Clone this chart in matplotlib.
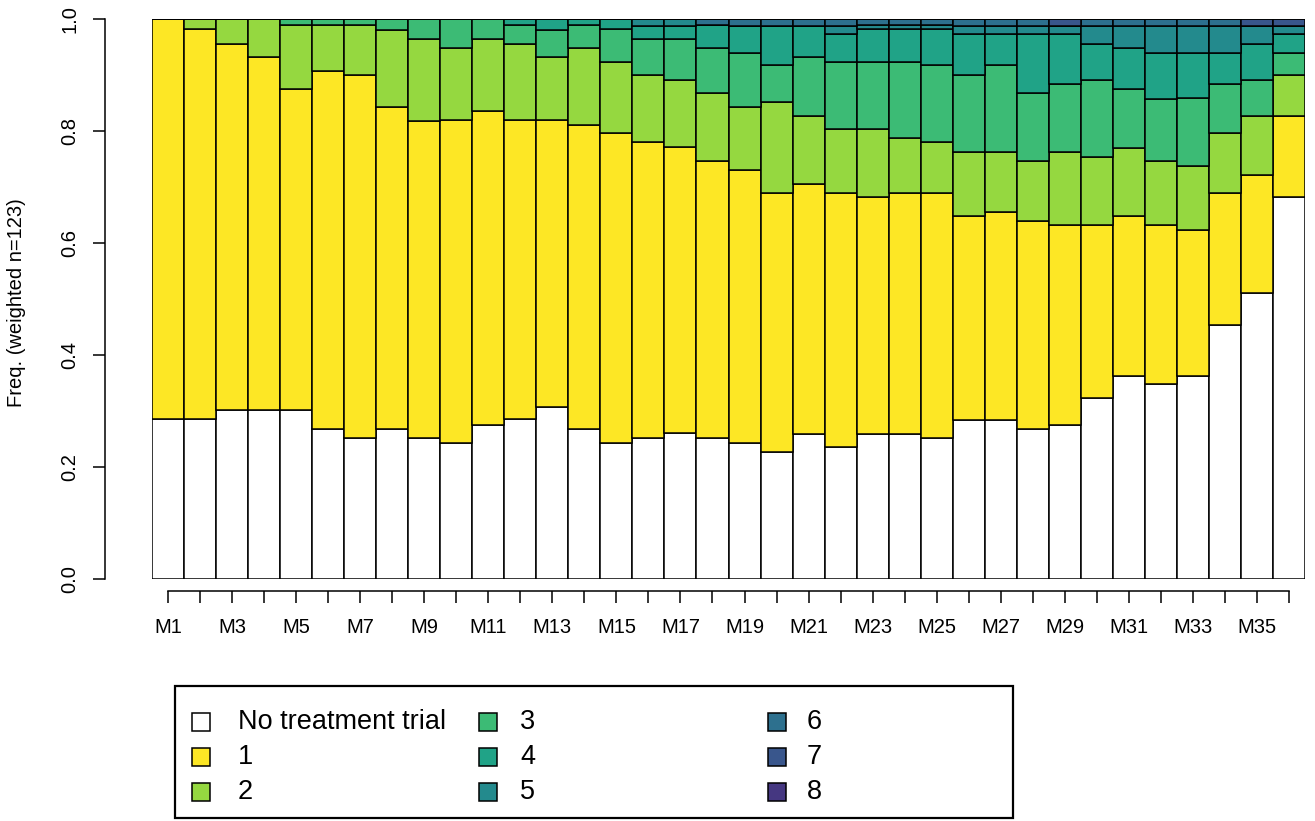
import numpy as np
import matplotlib
matplotlib.use("Agg")
import matplotlib.pyplot as plt
from matplotlib.patches import Rectangle

plt.rcParams['font.family'] = ['Liberation Sans', 'DejaVu Sans']

months = [f"M{i}" for i in range(1, 37)]
states = ["No treatment trial", "1", "2", "3", "4", "5", "6", "7", "8"]
colors = ["#FFFFFF", "#FDE725", "#95D840", "#3CBB75", "#20A387",
          "#238A8D", "#2D708E", "#39568C", "#453781"]

# state proportions per month (M1..M36)
s_none = [.285, .285, .301, .301, .301, .268, .252, .268, .252, .243, .275, .285,
          .308, .268, .243, .252, .260, .252, .243, .226, .259, .235, .259, .259,
          .251, .284, .284, .268, .275, .324, .363, .349, .363, .454, .510, .682]
s1 = [.715, .697, .655, .632, .574, .640, .648, .574, .566, .576, .560, .534,
      .511, .542, .553, .528, .511, .495, .488, .463, .446, .454, .423, .430,
      .438, .365, .372, .372, .358, .309, .286, .284, .261, .235, .212, .144]
s2 = [0, .018, .044, .067, .114, .081, .089, .139, .147, .130, .130, .137,
      .114, .139, .127, .120, .120, .121, .111, .163, .121, .114, .121, .098,
      .091, .114, .107, .107, .130, .121, .121, .114, .114, .107, .104, .074]
s3 = [0, 0, 0, 0, .011, .011, .011, .019, .035, .051, .035, .033,
      .048, .040, .059, .065, .074, .081, .098, .065, .107, .121, .121, .137,
      .137, .137, .154, .121, .121, .137, .105, .111, .121, .088, .065, .040]
s4 = [0, 0, 0, 0, 0, 0, 0, 0, 0, 0, 0, .011,
      .019, .011, .018, .023, .023, .040, .048, .071, .055, .049, .058, .058,
      .065, .073, .056, .105, .089, .065, .074, .082, .082, .056, .065, .033]
s5 = [0, 0, 0, 0, 0, 0, 0, 0, 0, 0, 0, 0,
      0, 0, 0, .012, .012, 0, 0, 0, 0, .015, .008, .008,
      .008, .015, .015, .015, .015, .032, .039, .048, .048, .048, .032, .015]
s6 = [0, 0, 0, 0, 0, 0, 0, 0, 0, 0, 0, 0,
      0, 0, 0, 0, 0, .011, .012, .012, .012, .012, .010, .010,
      .010, .012, .012, .012, 0, .012, .012, .012, .012, .012, 0, 0]
s7 = [0, 0, 0, 0, 0, 0, 0, 0, 0, 0, 0, 0,
      0, 0, 0, 0, 0, 0, 0, 0, 0, 0, 0, 0,
      0, 0, 0, 0, .012, 0, 0, 0, 0, 0, .012, .012]
s8 = [0] * 36

series = [s_none, s1, s2, s3, s4, s5, s6, s7, s8]
data = np.array(series, dtype=float)
data = data / data.sum(axis=0, keepdims=True)

W, H = 1315, 821
fig = plt.figure(figsize=(W / 100, H / 100), dpi=100)

left_px, right_px, top_px, bot_px = 152, 1305, 19, 579
ax = fig.add_axes([left_px / W, 1 - bot_px / H, (right_px - left_px) / W,
                   (bot_px - top_px) / H])

x = np.arange(len(months))
bottom = np.zeros(len(months))
for vals, col in zip(data, colors):
    ax.bar(x, vals, bottom=bottom, width=1.0, color=col, edgecolor="black",
           linewidth=1.1, align="center")
    bottom += vals

ax.set_xlim(-0.5, len(months) - 0.5)
ax.set_ylim(0, 1)

for s in ["top", "right"]:
    ax.spines[s].set_visible(False)
ax.spines["left"].set_position(("outward", 47 * 0.72))
ax.spines["bottom"].set_position(("outward", 12 * 0.72))
ax.spines["left"].set_bounds(0, 1)
ax.spines["bottom"].set_bounds(0, len(months) - 1)
for s in ["left", "bottom"]:
    ax.spines[s].set_linewidth(1.1)

ax.set_yticks([0, 0.2, 0.4, 0.6, 0.8, 1.0])
ax.set_yticklabels(["0.0", "0.2", "0.4", "0.6", "0.8", "1.0"], rotation=90,
                   va="center")
ax.set_xticks(x)
ax.set_xticklabels([m if i % 2 == 0 else "" for i, m in enumerate(months)])
ax.tick_params(axis="both", direction="out", length=12 * 0.72, width=1.1,
               labelsize=14.5, colors="black")
ax.tick_params(axis="x", pad=11)
ax.tick_params(axis="y", pad=10)

fig.text(17 / W, 1 - 303 / H, "Freq. (weighted n=123)", rotation=90,
         ha="center", va="center", fontsize=14.5)

# legend box (manual, R style)
def fx(px):
    return px / W

def fy(py):
    return 1 - py / H

box = Rectangle((fx(175), fy(818)), fx(1013) - fx(175), fy(686) - fy(818),
                transform=fig.transFigure, fill=False, edgecolor="black",
                linewidth=1.6)
fig.patches.append(box)

col_sq = [192, 479, 768]
col_tx = [238, 520, 807]
row_y = [722, 757, 792]
sq = 18
for i, (lab, col) in enumerate(zip(states, colors)):
    c, r = divmod(i, 3)
    cx, cy = col_sq[c], row_y[r]
    rect = Rectangle((fx(cx), fy(cy + sq / 2)), sq / W, sq / H,
                     transform=fig.transFigure, facecolor=col,
                     edgecolor="black", linewidth=1.1)
    fig.patches.append(rect)
    fig.text(fx(col_tx[c]), fy(cy), lab, ha="left", va="center",
             fontsize=19.5)

fig.savefig("out.png", dpi=100)
